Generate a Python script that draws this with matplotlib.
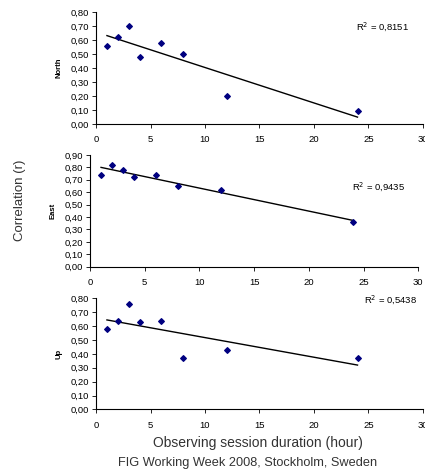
import matplotlib.pyplot as plt
import numpy as np
from matplotlib.ticker import FuncFormatter, MultipleLocator

plt.rcParams["font.family"] = ["Liberation Sans", "DejaVu Sans"]

# session duration (hours)
hours = [1, 2, 3, 4, 6, 8, 12, 24]
north = [0.56, 0.62, 0.70, 0.48, 0.58, 0.50, 0.20, 0.09]
east = [0.74, 0.82, 0.78, 0.72, 0.74, 0.65, 0.62, 0.36]
up = [0.58, 0.64, 0.76, 0.63, 0.64, 0.37, 0.43, 0.37]
names = ["North", "East", "Up"]
r2_text = ["0,8151", "0,9435", "0,5438"]
ymaxes = [0.8, 0.9, 0.8]

fig = plt.figure(figsize=(4.25, 4.75), dpi=100)
# [left, bottom, width, height]
boxes = [[0.226, 0.739, 0.769, 0.236],
         [0.212, 0.4385, 0.772, 0.2355],
         [0.226, 0.138, 0.769, 0.234]]
r2_pos = [(382, 27), (378, 187), (390, 300)]

comma = FuncFormatter(lambda v, p: f"{v:.2f}".replace(".", ","))

for i, vals in enumerate([north, east, up]):
    ax = fig.add_axes(boxes[i])
    ax.scatter(hours, vals, marker="D", s=8, color="#000080", zorder=3)
    k, b = np.polyfit(hours, vals, 1)
    xs = np.array([hours[0], hours[-1]])
    ax.plot(xs, k * xs + b, color="black", lw=1)
    ax.set_xlim(0, 30)
    ax.set_ylim(0, ymaxes[i])
    ax.xaxis.set_major_locator(MultipleLocator(5))
    ax.yaxis.set_major_locator(MultipleLocator(0.1))
    ax.yaxis.set_major_formatter(comma)
    ax.spines["top"].set_visible(False)
    ax.spines["right"].set_visible(False)
    ax.spines["left"].set_linewidth(0.8)
    ax.spines["bottom"].set_linewidth(0.8)
    ax.tick_params(labelsize=6.8, length=3, width=0.6, pad=2)
    ax.tick_params(axis="x", pad=5)
    ax.set_ylabel(names[i], fontsize=5.5, fontweight="bold", labelpad=6)
    fig.text(r2_pos[i][0] / 425, 1 - r2_pos[i][1] / 475, "R$^2$ = " + r2_text[i],
             fontsize=6.8, ha="center", va="center")

fig.text(20 / 425, 1 - 200 / 475, "Correlation (r)", rotation=90,
         fontsize=9.5, ha="center", va="center", color="#333333")
fig.text(258 / 425, 1 - 443 / 475, "Observing session duration (hour)",
         fontsize=10, ha="center", va="center", color="#333333")
fig.text(248 / 425, 1 - 463 / 475, "FIG Working Week 2008, Stockholm, Sweden",
         fontsize=9.2, ha="center", va="center", color="#333333")

fig.savefig("out.png", dpi=100)
